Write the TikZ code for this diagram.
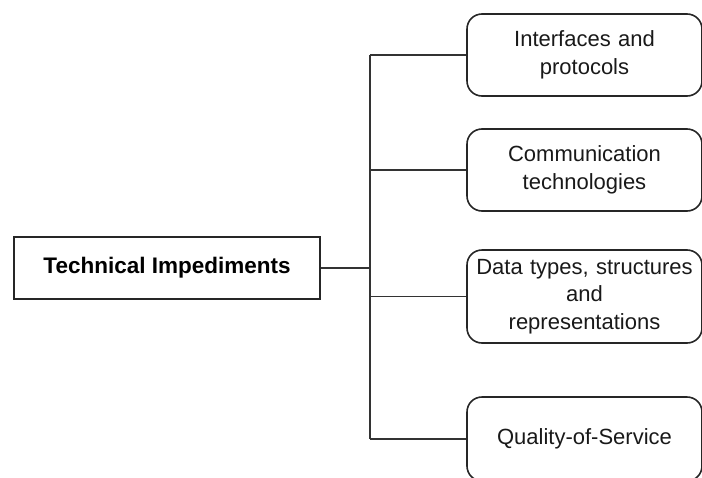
\documentclass[tikz,border=0pt]{standalone}
\usepackage{fontspec}
\setmainfont{Liberation Sans}
\usepackage{tikz}
\usetikzlibrary{positioning}

\begin{document}
\begin{tikzpicture}[x=1pt,y=-1pt,font=\fontsize{22}{27.5}\selectfont]
    \tikzset{
      mainrect/.style={rectangle,draw=black!85,line width=2.2pt,minimum width=306pt,minimum height=62pt,inner sep=0pt,font=\fontsize{22.5}{27.5}\selectfont\bfseries},
      rectroundnode/.style={rectangle,rounded corners=15pt,draw=black!85,line width=1.6pt,minimum width=235pt,text width=229pt,inner sep=3pt,text centered,text=black!90},
      branch/.style={draw=black!80,line width=1.6pt}
    }
    \useasboundingbox (0,0) rectangle (702,477);
    \node[mainrect](impediments) at (167,268){Technical Impediments};
    \node[rectroundnode,minimum height=82pt](interfaces) at (584.5,55){Interfaces and\\protocols};
    \node[rectroundnode,minimum height=82pt](communication) at (584.5,170){Communication\\technologies};
    \node[rectroundnode,minimum height=93pt](datatypes) at (584.5,296.5){Data types, structures\\and\\representations};
    \node[rectroundnode,minimum height=84pt](qos) at (584.5,439){Quality-of-Service};
    \coordinate (trunk) at (370,268);

    \draw[branch](impediments.east) -- (trunk);
    \draw[branch](trunk |- interfaces.west) -- (trunk |- qos.west);
    \draw[branch](trunk |- interfaces.west) -- (interfaces.west);
    \draw[branch](trunk |- communication.west) -- (communication.west);
    \draw[branch](trunk |- datatypes.west) -- (datatypes.west);
    \draw[branch](trunk |- qos.west) -- (qos.west);

\end{tikzpicture}
\end{document}
